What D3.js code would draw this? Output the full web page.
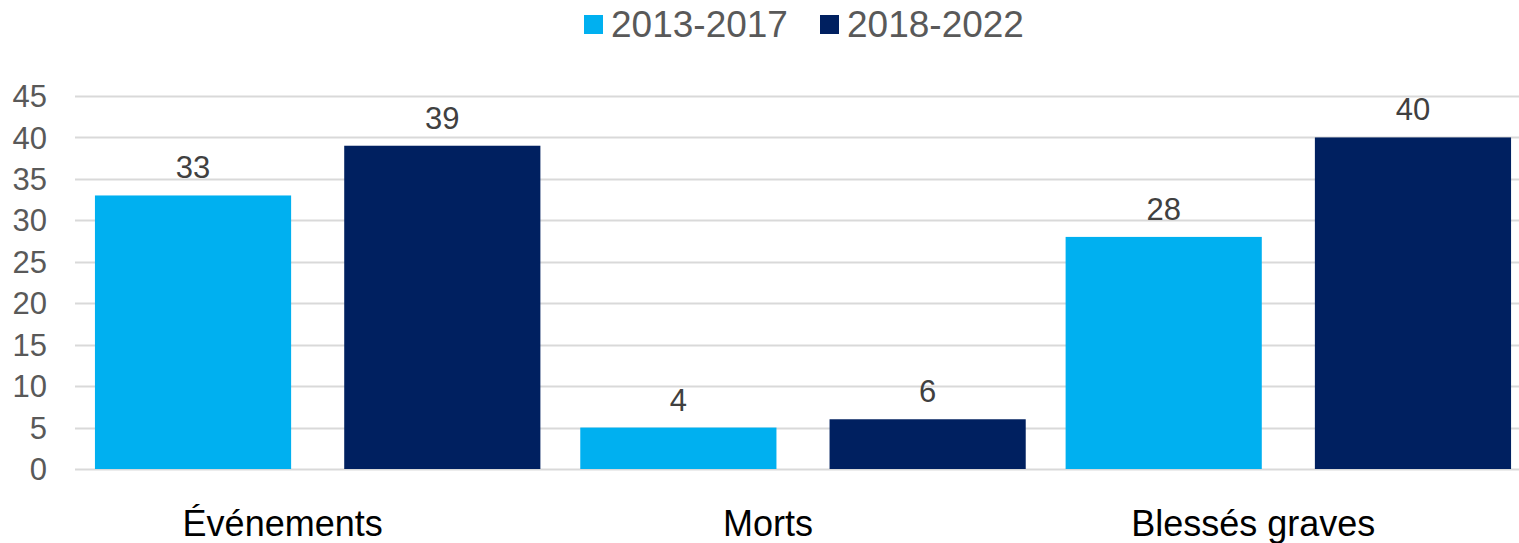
<!DOCTYPE html>
<html>
<head>
<meta charset="utf-8">
<script src="https://cdn.jsdelivr.net/npm/d3@7"></script>
<style>
  body { margin: 0; background: #fff; }
  text { font-family: "Liberation Sans", Arial, sans-serif; }
</style>
</head>
<body>
<svg id="chart" width="1519" height="543"></svg>
<script>
var categories = ["Événements", "Morts", "Blessés graves"]
var seriesNames = ["2013-2017", "2018-2022"]
var values2013 = [33, 5, 28]
var values2018 = [39, 6, 40]
var labels2013 = ["33", "4", "28"]   // the source labels the Morts bar "4"
var labels2018 = ["39", "6", "40"]
var yTicks = [0, 5, 10, 15, 20, 25, 30, 35, 40, 45]

var colors = ["#00B0F0", "#002060"]
var width = 1519, height = 543
var margin = {left: 75, right: -12, top: 96, bottom: 74}

var svg = d3.select("#chart")

var x = d3.scaleBand()
  .domain(categories)
  .range([margin.left, width - margin.right])

var xs = d3.scaleBand()
  .domain(seriesNames)
  .range([0, x.bandwidth()])
  .paddingInner(0.213)
  .paddingOuter(0.08)

var y = d3.scaleLinear()
  .domain([0, 45])
  .range([height - margin.bottom, margin.top])

// gridlines
svg.append("g")
  .selectAll("line")
  .data(yTicks)
  .join("line")
  .attr("x1", margin.left)
  .attr("x2", width)
  .attr("y1", d => Math.round(y(d)) + 0.5)
  .attr("y2", d => Math.round(y(d)) + 0.5)
  .style("stroke", "#d9d9d9")
  .style("stroke-width", 2)

// y tick labels
svg.append("g")
  .selectAll("text")
  .data(yTicks)
  .join("text")
  .attr("x", 47)
  .attr("y", d => y(d))
  .attr("dy", "0.36em")
  .attr("text-anchor", "end")
  .style("font-size", "31px")
  .style("fill", "#595959")
  .text(d => d)

var rows = categories.map(function(c, i){
  return [
    {cat: c, s: seriesNames[0], v: values2013[i], label: labels2013[i], color: colors[0]},
    {cat: c, s: seriesNames[1], v: values2018[i], label: labels2018[i], color: colors[1]}
  ]
}).flat()

svg.append("g")
  .selectAll("rect")
  .data(rows)
  .join("rect")
  .attr("x", d => x(d.cat) + xs(d.s))
  .attr("width", xs.bandwidth())
  .attr("y", d => y(d.v))
  .attr("height", d => y(0) - y(d.v))
  .style("fill", d => d.color)

svg.append("g")
  .selectAll("text")
  .data(rows)
  .join("text")
  .attr("x", d => x(d.cat) + xs(d.s) + xs.bandwidth() / 2)
  .attr("y", d => y(d.v) - 17)
  .attr("text-anchor", "middle")
  .style("font-size", "31px")
  .style("fill", "#404040")
  .text(d => d.label)

// category labels
svg.append("g")
  .selectAll("text")
  .data(categories)
  .join("text")
  .attr("x", d => x(d) + x.bandwidth() / 2 - 35)
  .attr("y", 536)
  .attr("text-anchor", "middle")
  .style("font-size", "36px")
  .style("fill", "#000")
  .text(d => d)

// legend
var legendX = [584, 820]
var legend = svg.append("g")
  .selectAll("g")
  .data(seriesNames)
  .join("g")
  .attr("transform", (d, i) => "translate(" + legendX[i] + ",0)")

legend.append("rect")
  .attr("x", 0)
  .attr("y", 15)
  .attr("width", 19)
  .attr("height", 19)
  .style("fill", (d, i) => colors[i])

legend.append("text")
  .attr("x", 27)
  .attr("y", 37)
  .style("font-size", "37px")
  .style("fill", "#595959")
  .text(d => d)
</script>
</body>
</html>
